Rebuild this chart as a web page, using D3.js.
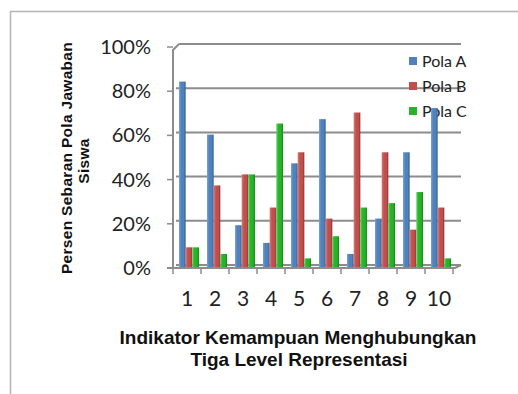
<!DOCTYPE html>
<html><head><meta charset="utf-8">
<script src="https://cdn.jsdelivr.net/npm/d3@7"></script>
<style>body{margin:0;background:#fff}svg{display:block}</style>
</head><body>
<script>
const categories = ["1","2","3","4","5","6","7","8","9","10"];
const seriesNames = ["Pola A","Pola B","Pola C"];
const polaA = [0.83,0.59,0.18,0.10,0.46,0.66,0.05,0.21,0.51,0.71];
const polaB = [0.08,0.36,0.41,0.26,0.51,0.21,0.69,0.51,0.16,0.26];
const polaC = [0.08,0.05,0.41,0.64,0.03,0.13,0.26,0.28,0.33,0.03];
const yTicks = [0,0.2,0.4,0.6,0.8,1.0];
const colors = ["#4f81bd","#c0504d","#27b327"];
const darks = ["#34608f","#8e3331","#18861a"];
const lights = ["#7aa3d6","#d77c79","#5fd05f"];

const W=518,H=394;
const svg=d3.select("body").append("svg").attr("width",W).attr("height",H);
const defs=svg.append("defs");
colors.forEach((c,i)=>{
  const g=defs.append("linearGradient").attr("id","g"+i).attr("x1","0").attr("x2","1").attr("y1","0").attr("y2","0");
  g.append("stop").attr("offset","0").attr("stop-color",lights[i]);
  g.append("stop").attr("offset","0.35").attr("stop-color",c);
  g.append("stop").attr("offset","0.7").attr("stop-color",c);
  g.append("stop").attr("offset","1").attr("stop-color",darks[i]);
});

// outer frame
svg.append("path").attr("d","M10.5,394 V11.5 H518").attr("fill","none").attr("stroke","#b4b4b4").attr("stroke-width",1.5);

const x0=d3.scaleBand().domain(categories).range([173,453]);
const y=d3.scaleLinear().domain([0,1]).range([265,44]);
const grid="#8c8c8c";

// back wall gridlines
const g=svg.append("g");
g.selectAll("line.grid").data(yTicks).join("line")
  .attr("x1",d=>d===1?179:176).attr("x2",461)
  .attr("y1",d=>y(d)).attr("y2",d=>y(d))
  .attr("stroke",grid).attr("stroke-width",2);
// side wall edge
g.append("path").attr("d",`M173,268 V50 L179,${y(1)}`).attr("fill","none").attr("stroke",grid).attr("stroke-width",2);
// floor front edge
g.append("path").attr("d",`M167,268 H455 L461,${y(0)}`).attr("fill","none").attr("stroke",grid).attr("stroke-width",2);
// y ticks
g.selectAll("line.yt").data(yTicks).join("line")
  .attr("x1",167).attr("x2",173).attr("y1",d=>y(d)+3).attr("y2",d=>y(d)+3)
  .attr("stroke",grid).attr("stroke-width",1.5);
// x ticks
const edges=categories.map(c=>x0(c)).concat([x0.range()[1]]);
g.selectAll("line.xt").data(edges).join("line")
  .attr("x1",d=>d).attr("x2",d=>d).attr("y1",268).attr("y2",274)
  .attr("stroke",grid).attr("stroke-width",1.5);

// y tick labels
svg.selectAll("text.yl").data(yTicks).join("text")
  .attr("x",151).attr("y",d=>y(d)+3).attr("dy","0.35em")
  .attr("text-anchor","end").attr("font-family","Lato, 'Open Sans', sans-serif")
  .attr("font-size",20).attr("fill","#222").text(d=>d3.format(".0%")(d));
// x tick labels
svg.selectAll("text.xl").data(categories).join("text")
  .attr("x",d=>x0(d)+x0.bandwidth()/2).attr("y",306)
  .attr("text-anchor","middle").attr("font-family","Lato, 'Open Sans', sans-serif")
  .attr("font-size",21).attr("fill","#222").text(d=>d);

// legend
const leg=svg.append("g");
seriesNames.forEach((s,i)=>{
  const ly=61+i*25;
  leg.append("rect").attr("x",409).attr("y",ly-4).attr("width",8).attr("height",8).attr("fill",colors[i]);
  leg.append("text").attr("x",422).attr("y",ly).attr("dy","0.35em")
    .attr("font-family","Lato, 'Open Sans', sans-serif").attr("font-size",16).attr("fill","#222").text(s);
});

// bars
const data=[polaA,polaB,polaC];
const x1=d3.scaleBand().domain([0,1,2]).range([6,26]);
data.forEach((vals,si)=>{
  svg.append("g").selectAll("rect").data(vals).join("rect")
    .attr("x",(d,i)=>x0(categories[i])+x1(si))
    .attr("width",x1.bandwidth())
    .attr("y",d=>y(d))
    .attr("height",d=>267-y(d))
    .attr("fill",`url(#g${si})`);
});

// axis titles
const t=svg.append("g").attr("font-family","'Liberation Sans', Arial, sans-serif").attr("font-weight","bold").attr("fill","#111").attr("font-size",19);
t.append("text").attr("x",298).attr("y",344).attr("text-anchor","middle").text("Indikator Kemampuan Menghubungkan");
t.append("text").attr("x",299).attr("y",366).attr("text-anchor","middle").text("Tiga Level Representasi");
const ty=svg.append("g").attr("font-family","'Liberation Sans', Arial, sans-serif").attr("font-weight","bold").attr("fill","#111").attr("font-size",15.5).attr("text-anchor","middle");
ty.append("text").attr("transform","translate(72,158) rotate(-90)").attr("letter-spacing",0.3).text("Persen Sebaran Pola Jawaban");
ty.append("text").attr("transform","translate(89,161) rotate(-90)").attr("letter-spacing",0.3).text("Siswa");
</script>
</body></html>
